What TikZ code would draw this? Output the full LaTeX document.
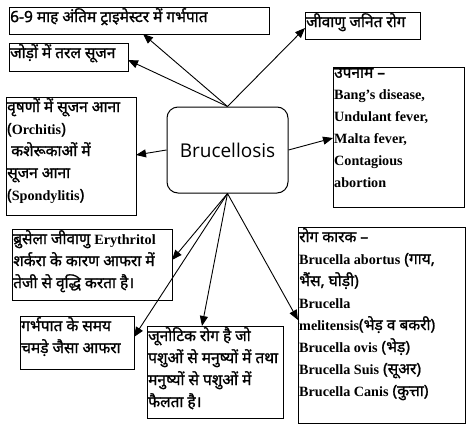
\documentclass[tikz,border=0pt]{standalone}
\usepackage{fontspec}
\setmainfont{Noto Sans}[Script=Devanagari, Scale=1.19, FakeBold=1.2]
\newfontfamily\latn{Liberation Serif}[Scale=1.09]
\newfontfamily\brfont{Open Sans}
\newcommand\ltn[1]{{\latn\bfseries #1}}
\usetikzlibrary{arrows.meta}
\tikzset{
  box/.style={draw, line width=1pt, inner sep=0pt},
  txt/.style={anchor=north west, inner xsep=1.5pt, inner ysep=1.5pt, align=left,
    font=\fontsize{13}{22}\selectfont},
  arr/.style={line width=0.9pt, -{Triangle[length=10pt,width=8pt]}}
}
\begin{document}
\begin{tikzpicture}[x=1pt,y=-1pt]
\fill[white] (0,0) rectangle (474,426);
\useasboundingbox (0,0) rectangle (474,426);
% boxes
\node[box, minimum width=260pt, minimum height=27pt] (b1) at (139,20.5) {};
\node[box, minimum width=119pt, minimum height=28pt] (b2) at (68.5,57) {};
\node[box, minimum width=130pt, minimum height=118pt] (b3) at (71,156) {};
\node[box, minimum width=115pt, minimum height=27pt] (b4) at (362.5,25.5) {};
\node[box, minimum width=131pt, minimum height=140pt] (b5) at (398.5,137) {};
\node[box, minimum width=160pt, minimum height=71pt] (b6) at (92,264.5) {};
\node[box, minimum width=114pt, minimum height=53pt] (b7) at (77,342.5) {};
\node[box, minimum width=136pt, minimum height=92pt] (b8) at (215,372) {};
\node[box, minimum width=167pt, minimum height=196pt] (b9) at (381.5,325) {};
\node[box, rounded corners=11pt, minimum width=121pt, minimum height=86pt,
  font=\brfont\fontsize{19}{20}\selectfont] (c) at (227.5,150) {Brucellosis};
% texts
\node[txt] (t1) at (b1.north west) {6-9 माह अंतिम ट्राइमेस्टर में गर्भपात};
\node[txt] (t2) at (b2.north west) {जोड़ों में तरल सूजन};
\node[txt] (t3) at (b3.north west) {वृषणों में सूजन आना\\(\ltn{Orchitis})\\ \ कशेरूकाओं में\\सूजन आना\\(\ltn{Spondylitis})};
\node[txt] (t4) at (b4.north west) {जीवाणु जनित रोग};
\node[txt] (t5) at (b5.north west) {उपनाम –\\\ltn{Bang’s disease,}\\\ltn{Undulant fever,}\\\ltn{Malta fever,}\\\ltn{Contagious}\\\ltn{abortion}};
\node[txt] (t6) at (b6.north west) {ब्रुसेला जीवाणु \ltn{Erythritol}\\शर्करा के कारण आफरा में\\तेजी से वृद्धि करता है।};
\node[txt] (t7) at (b7.north west) {गर्भपात के समय\\चमड़े जैसा आफरा};
\node[txt] (t8) at (b8.north west) {जूनोटिक रोग है जो\\पशुओं से मनुष्यों में तथा\\मनुष्यों से पशुओं में\\फैलता है।};
\node[txt] (t9) at (b9.north west) {रोग कारक –\\\ltn{Brucella abortus} (गाय,\\भैंस, घोड़ी)\\\ltn{Brucella}\\\ltn{melitensis}(भेड़ व बकरी)\\\ltn{Brucella ovis} (भेड़)\\\ltn{Brucella Suis} (सूअर)\\\ltn{Brucella Canis} (कुत्ता)};
% arrow ends
\coordinate (e1) at (143,34);
\coordinate (e2) at (128,60);
\coordinate (e3) at (136,155);
\coordinate (e4) at (305,28);
\coordinate (e5) at (333,138);
\coordinate (e6) at (172,260);
\coordinate (e7) at (134,337);
\coordinate (e8) at (202,326);
\coordinate (e9) at (298,320);
% arrows
\draw[arr] (c.north) -- (e1);
\draw[arr] (c.north) -- (e2);
\draw[arr] (c.north) -- (e4);
\draw[arr] (c.west) -- (e3);
\draw[arr] (c.east) -- (e5);
\draw[arr] (c.south) -- (e6);
\draw[arr] (c.south) -- (e7);
\draw[arr] (c.south) -- (e8);
\draw[arr] (c.south) -- (e9);
\end{tikzpicture}
\end{document}
